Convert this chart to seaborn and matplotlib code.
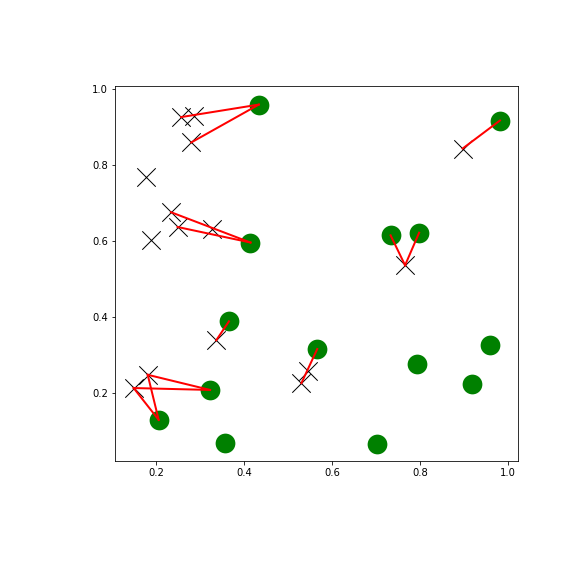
import pandas as pd
import matplotlib
matplotlib.use("Agg")
import matplotlib.pyplot as plt
import seaborn as sns

# facilities (green dots)
fac_x = [0.433, 0.982, 0.414, 0.733, 0.798, 0.365, 0.322, 0.205, 0.357, 0.566, 0.793, 0.959, 0.918, 0.702]
fac_y = [0.960, 0.918, 0.596, 0.615, 0.622, 0.388, 0.207, 0.128, 0.067, 0.315, 0.276, 0.325, 0.222, 0.064]

# customers (black crosses)
cus_x = [0.256, 0.286, 0.279, 0.177, 0.233, 0.248, 0.327, 0.187, 0.336, 0.180, 0.148, 0.545, 0.530, 0.766, 0.897]
cus_y = [0.927, 0.931, 0.860, 0.770, 0.676, 0.637, 0.633, 0.602, 0.338, 0.247, 0.212, 0.258, 0.225, 0.536, 0.844]

# links: (customer index, facility index)
links = [(0, 0), (2, 0), (4, 2), (5, 2), (8, 5), (9, 6), (10, 6), (10, 7), (9, 7),
         (12, 9), (13, 3), (13, 4), (14, 1)]

fac_df = pd.DataFrame({'x': fac_x, 'y': fac_y})
cus_df = pd.DataFrame({'x': cus_x, 'y': cus_y})

rows = []
for k, (c, f) in enumerate(links):
    rows.append({'seg': k, 'x': cus_x[c], 'y': cus_y[c]})
    rows.append({'seg': k, 'x': fac_x[f], 'y': fac_y[f]})
seg_df = pd.DataFrame(rows)

fig = plt.figure(figsize=(8, 8), dpi=72)
ax = fig.add_axes([0.2, 0.2, 0.7, 0.65])

sns.scatterplot(data=fac_df, x='x', y='y', ax=ax, color='green', s=390,
                edgecolor='green', linewidth=0, zorder=2)
sns.scatterplot(data=cus_df, x='x', y='y', ax=ax, color='black', marker='x',
                s=340, linewidth=1, zorder=2)
sns.lineplot(data=seg_df, x='x', y='y', units='seg', estimator=None, sort=False,
             color='red', linewidth=2, ax=ax, zorder=3)

ax.set_xlim(0.106, 1.024)
ax.set_ylim(0.020, 1.008)
ax.set_xticks([0.2, 0.4, 0.6, 0.8, 1.0])
ax.set_yticks([0.2, 0.4, 0.6, 0.8, 1.0])
ax.set_xlabel('')
ax.set_ylabel('')

fig.savefig('out.png', dpi=72)
